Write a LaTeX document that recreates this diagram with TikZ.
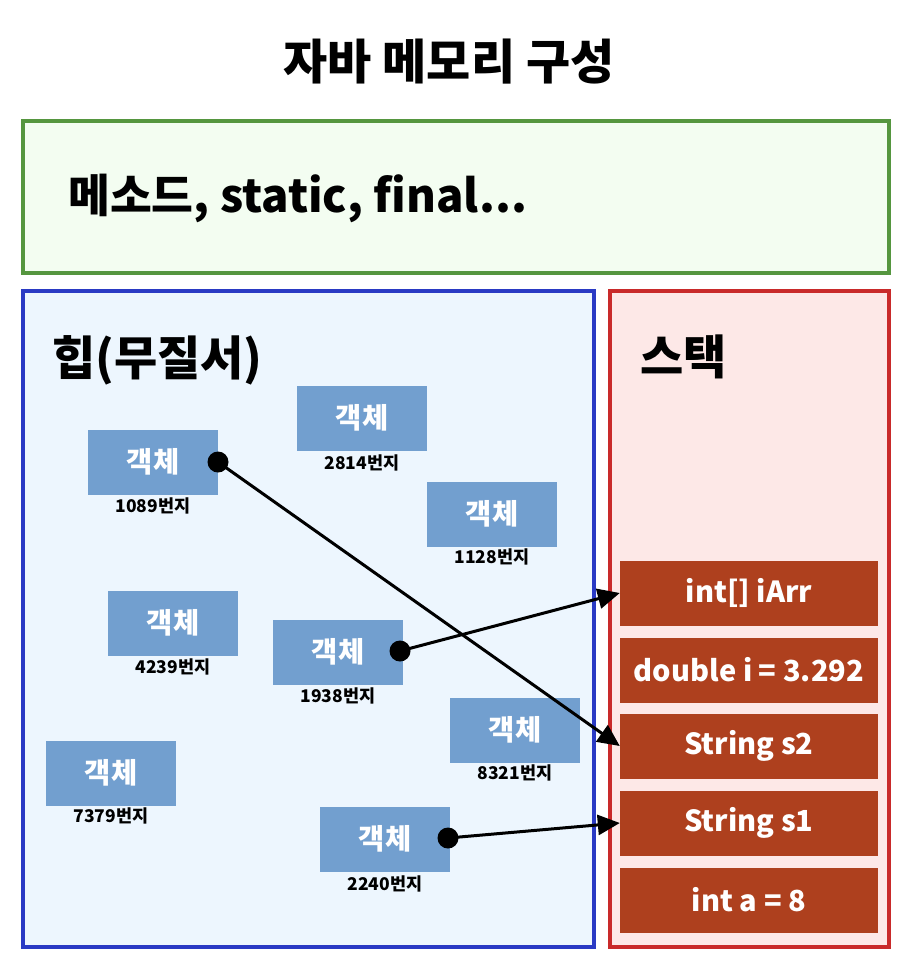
\documentclass[tikz,border=0pt]{standalone}
\usepackage{fontspec}
\setmainfont{Noto Sans CJK KR}
\usetikzlibrary{arrows.meta}
\definecolor{gstroke}{HTML}{55963F}
\definecolor{gfill}{HTML}{F3FDF1}
\definecolor{bstroke}{HTML}{2A3AC4}
\definecolor{bfill}{HTML}{EDF6FE}
\definecolor{rstroke}{HTML}{C92A2A}
\definecolor{rfill}{HTML}{FDE8E7}
\definecolor{objfill}{HTML}{729FCF}
\definecolor{stkfill}{HTML}{AE401E}
\tikzset{
  region/.style={line width=4pt, inner sep=0pt},
  obj/.style={fill=objfill, minimum width=130pt, minimum height=65pt, inner sep=0pt, text=white, font=\fontsize{28.5}{28.5}\selectfont\bfseries},
  addr/.style={font=\fontsize{17.5}{17.5}\selectfont\bfseries, inner sep=0pt},
  stk/.style={fill=stkfill, minimum width=258pt, minimum height=65pt, inner sep=0pt, text=white, font=\fontsize{29}{29}\selectfont\bfseries},
  dotc/.style={circle, fill=black, minimum size=21pt, inner sep=0pt},
  ref/.style={line width=3pt, -{Triangle[length=22pt,width=20pt]}},
  heading/.style={font=\fontsize{47}{47}\selectfont\bfseries, inner sep=0pt}
}
\begin{document}
\begin{tikzpicture}[x=1pt,y=-1pt]
\useasboundingbox (0,0) rectangle (912,967);
\fill[white] (0,0) rectangle (912,967);
\node[heading, font=\fontsize{48}{48}\selectfont\bfseries] (title) at (449,62) {자바 메모리 구성};
\draw[region, draw=gstroke, fill=gfill] (23,121) rectangle (889,273);
\node[anchor=west, inner sep=0pt, font=\fontsize{45.5}{45.5}\selectfont\bfseries] (method) at (68,198) {메소드, static, final...};
\draw[region, draw=bstroke, fill=bfill] (23,291) rectangle (594,947);
\draw[region, draw=rstroke, fill=rfill] (610,291) rectangle (889,947);
\node[heading, anchor=west] (heap) at (52,360) {힙(무질서)};
\node[heading, anchor=west] (stack) at (640,357) {스택};
% objects
\node[obj] (o1089) at (153,462) {객체};
\node[addr] (a1089) at (153,506) {1089번지};
\node[obj] (o2814) at (362,418) {객체};
\node[addr] (a2814) at (362,463) {2814번지};
\node[obj] (o1128) at (492,514) {객체};
\node[addr] (a1128) at (492,557) {1128번지};
\node[obj] (o4239) at (173,623) {객체};
\node[addr] (a4239) at (173,667) {4239번지};
\node[obj] (o1938) at (338,652) {객체};
\node[addr] (a1938) at (338,696) {1938번지};
\node[obj] (o8321) at (515,730) {객체};
\node[addr] (a8321) at (515,773) {8321번지};
\node[obj] (o7379) at (111,773) {객체};
\node[addr] (a7379) at (111,816) {7379번지};
\node[obj] (o2240) at (385,839) {객체};
\node[addr] (a2240) at (385,884) {2240번지};
% stack
\node[stk] (sArr) at (749,593) {int[] iArr};
\node[stk] (sDbl) at (749,670) {double i = 3.292};
\node[stk] (sS2) at (749,746) {String s2};
\node[stk] (sS1) at (749,823) {String s1};
\node[stk] (sA) at (749,900) {int a = 8};
% references
\node[dotc] (d1089) at (218,462) {};
\node[dotc] (d1938) at (400,651) {};
\node[dotc] (d2240) at (448,838) {};
\draw[ref] (d1089.center) -- (sS2.west);
\draw[ref] (d1938.center) -- (sArr.west);
\draw[ref] (d2240.center) -- (sS1.west);
\end{tikzpicture}
\end{document}
